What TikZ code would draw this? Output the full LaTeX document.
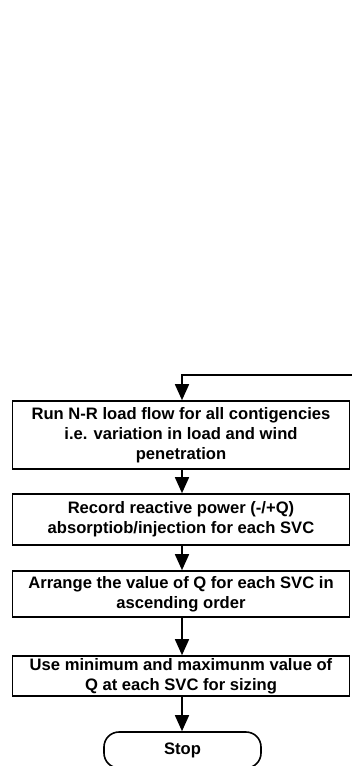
\documentclass[tikz,border=0pt]{standalone}
\usepackage{fontspec}
\setmainfont{Liberation Sans}
\usetikzlibrary{arrows.meta}
\begin{document}
\begin{tikzpicture}[x=1pt,y=-1pt,
  procbox/.style={draw=black, line width=1.6pt, fill=white, minimum width=337pt, align=center, inner sep=0pt,
    font=\fontsize{16.6}{20}\selectfont\bfseries},
  termbox/.style={draw=black, line width=1.6pt, rounded corners=15pt, minimum width=157pt, minimum height=36pt, inner sep=0pt,
    font=\fontsize{16.6}{20}\selectfont\bfseries},
  arr/.style={line width=1.6pt, -{Triangle[width=14pt,length=16pt]}}]
\useasboundingbox (0,0) rectangle (351,766);
\node[procbox, minimum height=68pt] (b1) at (181,435) {Run N-R load flow for all contigencies\\i.e. variation in load and wind\\penetration};
\node[procbox, minimum height=51pt] (b2) at (181,519.5) {Record reactive power (-/+Q)\\absorptiob/injection for each SVC};
\node[procbox, minimum height=46pt] (b3) at (181,594) {Arrange the value of Q for each SVC in\\ascending order};
\node[procbox, minimum height=40pt] (b4) at (181,676) {Use minimum and maximunm value of\\Q at each SVC for sizing};
\node[termbox] (stop) at (182.5,750) {Stop};
\coordinate (fb) at (352,375);
\draw[arr] (fb) -- (182,375) -- (b1.north -| 182,0);
\draw[arr] (b1.south -| 182,0) -- (b2.north -| 182,0);
\draw[arr] (b2.south -| 182,0) -- (b3.north -| 182,0);
\draw[arr] (b3.south -| 182,0) -- (b4.north -| 182,0);
\draw[arr] (b4.south -| 182,0) -- (stop.north -| 182,0);
\end{tikzpicture}
\end{document}
